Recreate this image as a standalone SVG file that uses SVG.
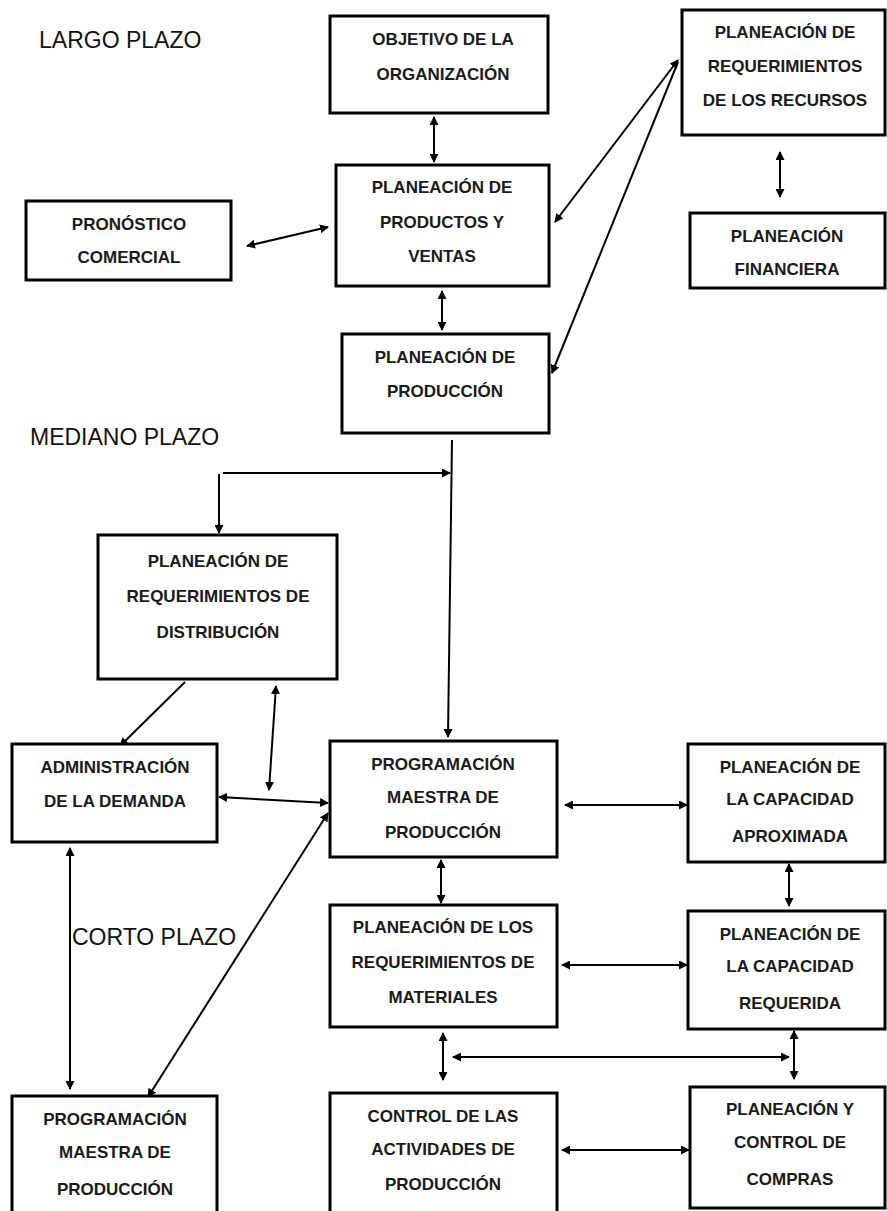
<svg xmlns="http://www.w3.org/2000/svg" width="887" height="1211" viewBox="0 0 887 1211">
<defs>
<marker id="ah" markerUnits="userSpaceOnUse" markerWidth="9" markerHeight="9" refX="8" refY="4.5" orient="auto-start-reverse">
<path d="M0,0 L9,4.5 L0,9 z" fill="#000"/>
</marker>
</defs>
<style>
.box{fill:#fff;stroke:#000;stroke-width:3}
.t{font-family:"Liberation Sans",Arial,sans-serif;font-weight:bold;font-size:17px;fill:#1a1a1a;text-anchor:middle}
.lbl{font-family:"Liberation Sans",Arial,sans-serif;font-size:23px;fill:#111}
.c{stroke:#000;stroke-width:2;fill:none}
.d{marker-start:url(#ah);marker-end:url(#ah)}
.s{marker-end:url(#ah)}
</style>
<rect width="887" height="1211" fill="#fff"/>
<g id="labels">
<text class="lbl" x="39" y="48">LARGO PLAZO</text>
<text class="lbl" x="30" y="445">MEDIANO PLAZO</text>
<text class="lbl" x="72" y="945">CORTO PLAZO</text>
</g>
<g id="connectors">
<line class="c d" x1="434" y1="117" x2="434" y2="162"/>
<line class="c d" x1="247" y1="246" x2="328" y2="227"/>
<line class="c d" x1="555" y1="222" x2="678" y2="60"/>
<line class="c s" x1="678" y1="62" x2="552" y2="373"/>
<line class="c d" x1="442" y1="291" x2="442" y2="330"/>
<line class="c d" x1="780" y1="152" x2="780" y2="197"/>
<line class="c s" x1="452" y1="440" x2="448" y2="737"/>
<line class="c s" x1="223" y1="473" x2="450" y2="473"/>
<line class="c s" x1="219" y1="474" x2="219" y2="533"/>
<line class="c s" x1="185" y1="682" x2="120" y2="746"/>
<line class="c d" x1="276" y1="686" x2="269" y2="790"/>
<line class="c d" x1="219" y1="797" x2="328" y2="803"/>
<line class="c d" x1="148" y1="1097" x2="328" y2="813"/>
<line class="c d" x1="70" y1="848" x2="70" y2="1089"/>
<line class="c d" x1="565" y1="805" x2="687" y2="805"/>
<line class="c d" x1="789" y1="864" x2="789" y2="906"/>
<line class="c d" x1="441" y1="860" x2="441" y2="903"/>
<line class="c d" x1="562" y1="965" x2="687" y2="965"/>
<line class="c d" x1="443" y1="1033" x2="443" y2="1080"/>
<line class="c d" x1="453" y1="1057" x2="789" y2="1057"/>
<line class="c d" x1="794" y1="1031" x2="794" y2="1079"/>
<line class="c d" x1="562" y1="1150" x2="689" y2="1150"/>
</g>
<g id="n-objetivo">
<rect class="box" x="330" y="16" width="218" height="97"/>
<text class="t" x="443" y="45">OBJETIVO DE LA</text>
<text class="t" x="443" y="80">ORGANIZACIÓN</text>
</g>
<g id="n-productos">
<rect class="box" x="336" y="165" width="213" height="121"/>
<text class="t" x="442" y="193">PLANEACIÓN DE</text>
<text class="t" x="442" y="228">PRODUCTOS Y</text>
<text class="t" x="442" y="262">VENTAS</text>
</g>
<g id="n-pronostico">
<rect class="box" x="26" y="201" width="205" height="79"/>
<text class="t" x="129" y="230">PRONÓSTICO</text>
<text class="t" x="129" y="263">COMERCIAL</text>
</g>
<g id="n-recursos">
<rect class="box" x="682" y="10" width="203" height="125"/>
<text class="t" x="785" y="38">PLANEACIÓN DE</text>
<text class="t" x="785" y="72">REQUERIMIENTOS</text>
<text class="t" x="785" y="106">DE LOS RECURSOS</text>
</g>
<g id="n-financiera">
<rect class="box" x="690" y="213" width="195" height="75"/>
<text class="t" x="787" y="242">PLANEACIÓN</text>
<text class="t" x="787" y="275">FINANCIERA</text>
</g>
<g id="n-produccion">
<rect class="box" x="342" y="334" width="207" height="99"/>
<text class="t" x="445" y="363">PLANEACIÓN DE</text>
<text class="t" x="445" y="397">PRODUCCIÓN</text>
</g>
<g id="n-distribucion">
<rect class="box" x="98" y="535" width="239" height="144"/>
<text class="t" x="218" y="567">PLANEACIÓN DE</text>
<text class="t" x="218" y="602">REQUERIMIENTOS DE</text>
<text class="t" x="218" y="638">DISTRIBUCIÓN</text>
</g>
<g id="n-demanda">
<rect class="box" x="12" y="744" width="205" height="98"/>
<text class="t" x="115" y="773">ADMINISTRACIÓN</text>
<text class="t" x="115" y="807">DE LA DEMANDA</text>
</g>
<g id="n-maestra">
<rect class="box" x="330" y="741" width="227" height="116"/>
<text class="t" x="443" y="770">PROGRAMACIÓN</text>
<text class="t" x="443" y="803">MAESTRA DE</text>
<text class="t" x="443" y="838">PRODUCCIÓN</text>
</g>
<g id="n-aproximada">
<rect class="box" x="688" y="744" width="197" height="118"/>
<text class="t" x="790" y="773">PLANEACIÓN DE</text>
<text class="t" x="790" y="805">LA CAPACIDAD</text>
<text class="t" x="790" y="842">APROXIMADA</text>
</g>
<g id="n-materiales">
<rect class="box" x="330" y="905" width="227" height="122"/>
<text class="t" x="443" y="933">PLANEACIÓN DE LOS</text>
<text class="t" x="443" y="968">REQUERIMIENTOS DE</text>
<text class="t" x="443" y="1003">MATERIALES</text>
</g>
<g id="n-requerida">
<rect class="box" x="688" y="911" width="197" height="118"/>
<text class="t" x="790" y="940">PLANEACIÓN DE</text>
<text class="t" x="790" y="972">LA CAPACIDAD</text>
<text class="t" x="790" y="1009">REQUERIDA</text>
</g>
<g id="n-programacion2">
<rect class="box" x="12" y="1096" width="205" height="130"/>
<text class="t" x="115" y="1125">PROGRAMACIÓN</text>
<text class="t" x="115" y="1158">MAESTRA DE</text>
<text class="t" x="115" y="1195">PRODUCCIÓN</text>
</g>
<g id="n-control">
<rect class="box" x="330" y="1093" width="227" height="133"/>
<text class="t" x="443" y="1122">CONTROL DE LAS</text>
<text class="t" x="443" y="1155">ACTIVIDADES DE</text>
<text class="t" x="443" y="1190">PRODUCCIÓN</text>
</g>
<g id="n-compras">
<rect class="box" x="690" y="1087" width="195" height="121"/>
<text class="t" x="790" y="1115">PLANEACIÓN Y</text>
<text class="t" x="790" y="1148">CONTROL DE</text>
<text class="t" x="790" y="1185">COMPRAS</text>
</g>
</svg>
